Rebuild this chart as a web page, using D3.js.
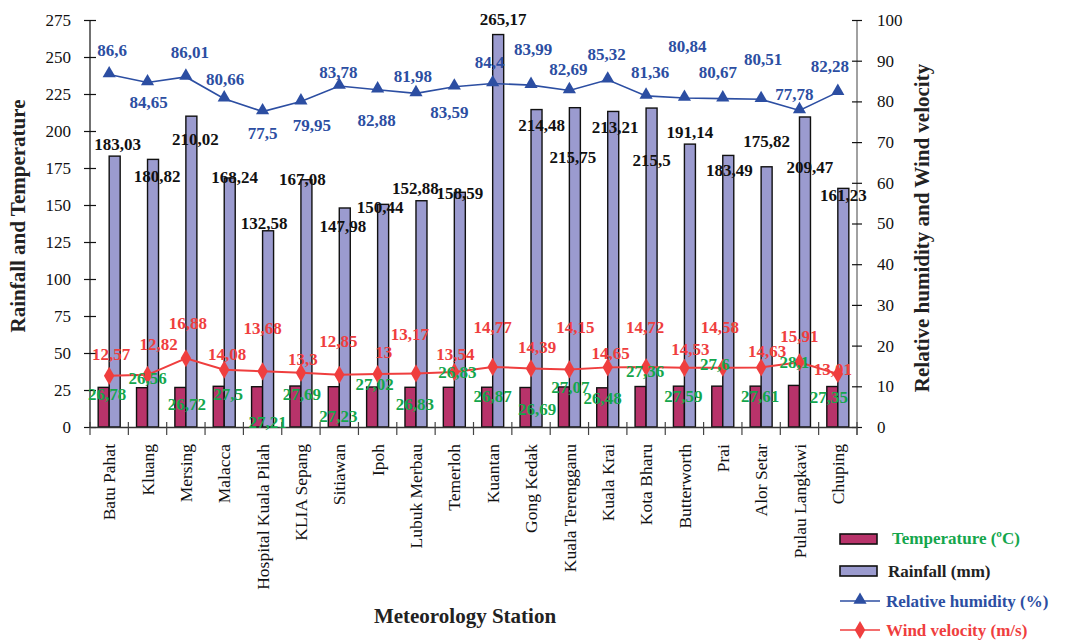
<!DOCTYPE html>
<html>
<head>
<meta charset="utf-8">
<script src="https://cdn.jsdelivr.net/npm/d3@7"></script>
<style>
  html, body { margin: 0; padding: 0; background: #fff; }
  svg, svg text { font-family: "Liberation Serif", "Times New Roman", Times, "DejaVu Serif", serif !important; }
  svg { display: block; }
</style>
</head>
<body>
<svg id="chart" width="1065" height="643"></svg>
<script>
// ---- data ----
const stations = ["Batu Pahat", "Kluang", "Mersing", "Malacca", "Hospital Kuala Pilah", "KLIA Sepang",
  "Sitiawan", "Ipoh", "Lubuk Merbau", "Temerloh", "Kuantan", "Gong Kedak", "Kuala Terengganu",
  "Kuala Krai", "Kota Bharu", "Butterworth", "Prai", "Alor Setar", "Pulau Langkawi", "Chuping"];
const temperature = [26.78, 26.56, 26.72, 27.5, 27.21, 27.69, 27.23, 27.02, 26.83, 26.83,
  26.87, 26.69, 27.07, 26.48, 27.36, 27.59, 27.6, 27.61, 28.1, 27.35];
const rainfall = [183.03, 180.82, 210.02, 168.24, 132.58, 167.08, 147.98, 150.44, 152.88, 158.59,
  265.17, 214.48, 215.75, 213.21, 215.5, 191.14, 183.49, 175.82, 209.47, 161.23];
const humidity = [86.6, 84.65, 86.01, 80.66, 77.5, 79.95, 83.78, 82.88, 81.98, 83.59,
  84.4, 83.99, 82.69, 85.32, 81.36, 80.84, 80.67, 80.51, 77.78, 82.28];
const wind = [12.57, 12.82, 16.88, 14.08, 13.68, 13.3, 12.85, 13, 13.17, 13.54,
  14.77, 14.39, 14.15, 14.65, 14.72, 14.53, 14.58, 14.63, 15.91, 13.01];
const leftTicks = [0, 25, 50, 75, 100, 125, 150, 175, 200, 225, 250, 275];
const rightTicks = [0, 10, 20, 30, 40, 50, 60, 70, 80, 90, 100];

// ---- label nudges (layout only: [dx, dy] relative to the mark) ----
const rainNudge = [[3,-6],[4,23],[4,29],[5,5],[-4,-2],[-4,5],[-2,24],[-3,9],[-6,-7],[0,7],
  [5,-10],[5,21],[-2,55],[2,22],[0,58],[0,-6],[1,21],[0,-20],[5,56],[0,13]];
const tempNudge = [[-2,13],[0,-4],[1,23],[4,14],[5,41],[1,14],[-1,35],[-3,3],[-1,23],[3,-9],
  [0,15],[6,28],[1,6],[-5,16],[-1,-10],[-1,16],[-8,-16],[-1,16],[-5,-17],[-9,16]];
const humNudge = [[3,-19],[1,26],[4,-19],[1,-14],[0,27],[11,29],[-1,-8],[-1,36],[-3,-11],[-5,31],
  [-3,-15],[2,-30],[-1,-15],[-1,-20],[4,-18],[3,-46],[-5,-21],[2,-34],[-5,-10],[-8,-20]];
const windNudge = [[2,-16],[11,-25],[2,-29],[3,-10],[0,-37],[2,-8],[-1,-28],[6,-16],[-6,-33],[1,-12],
  [0,-34],[6,-15],[6,-36],[3,-8],[-1,-34],[6,-13],[-3,-35],[6,-10],[0,-20],[-5,1]];

const colTemp = "#b8336a", colRain = "#9b9bcf", colHum = "#2c4ea2", colWind = "#ef3e3e";
const colTempLbl = "#14a64c";
const serif = "'Liberation Serif', 'Times New Roman', Times, 'DejaVu Serif', serif";

const svg = d3.select("#chart").attr("font-family", serif);
const plotL = 90, plotR = 857, plotT = 20, plotB = 427;

const x = d3.scaleBand().domain(stations).range([plotL, plotR]).paddingInner(0).paddingOuter(0);
const yL = d3.scaleLinear().domain([0, 275]).range([plotB, plotT]);
const yR = d3.scaleLinear().domain([0, 100]).range([plotB, plotT]);
const cx = d => x(d) + x.bandwidth() / 2;
const barW = 11;
const fmt = v => String(v).replace(".", ",");

// ---- bars ----
const g = svg.append("g");
g.selectAll("rect.temp").data(stations).join("rect")
  .attr("x", d => cx(d) - barW).attr("y", (d, i) => yL(temperature[i]))
  .attr("width", barW).attr("height", (d, i) => plotB - yL(temperature[i]))
  .attr("fill", colTemp).attr("stroke", "#111").attr("stroke-width", 1.4);
g.selectAll("rect.rain").data(stations).join("rect")
  .attr("x", d => cx(d)).attr("y", (d, i) => yL(rainfall[i]))
  .attr("width", barW).attr("height", (d, i) => plotB - yL(rainfall[i]))
  .attr("fill", colRain).attr("stroke", "#111").attr("stroke-width", 1.4);

// ---- axes ----
const axL = svg.append("g").attr("transform", `translate(${plotL},0)`)
  .call(d3.axisLeft(yL).tickValues(leftTicks).tickSize(6).tickPadding(13).tickFormat(d3.format("d")));
axL.attr("font-family", serif);
axL.select(".domain").attr("stroke", "#111").attr("stroke-width", 1.2).attr("d", `M0,${plotT}V${plotB}`);
axL.selectAll(".tick line").attr("x1", -6).attr("x2", 6).attr("stroke", "#111").attr("stroke-width", 1.2);
axL.selectAll(".tick text").attr("font-size", 17).attr("fill", "#111");

const axR = svg.append("g").attr("transform", `translate(${plotR},0)`)
  .call(d3.axisRight(yR).tickValues(rightTicks).tickSize(5).tickPadding(15).tickFormat(d3.format("d")));
axR.attr("font-family", serif);
axR.select(".domain").attr("stroke", "#8a8a8a").attr("stroke-width", 1.6).attr("d", `M0,${plotT}V${plotB + 8}`);
axR.selectAll(".tick line").attr("x1", -5).attr("x2", 5).attr("stroke", "#111").attr("stroke-width", 1.2);
axR.selectAll(".tick text").attr("font-size", 17).attr("fill", "#111");

const axB = svg.append("g").attr("transform", `translate(0,${plotB})`)
  .call(d3.axisBottom(x).tickSize(0).tickPadding(0));
axB.attr("font-family", serif);
axB.select(".domain").attr("stroke", "#333").attr("stroke-width", 1.4);
axB.selectAll(".tick text")
  .attr("transform", "translate(0,17) rotate(-90)")
  .attr("text-anchor", "end").attr("dy", "0.35em").attr("x", 0).attr("y", 0)
  .attr("font-size", 17.5).attr("fill", "#111");
// category boundary ticks
const bounds = stations.map(d => x(d)).concat([plotR]);
svg.append("g").selectAll("line").data(bounds).join("line")
  .attr("x1", d => d).attr("x2", d => d).attr("y1", plotB - 5).attr("y2", plotB + 8)
  .attr("stroke", "#444").attr("stroke-width", 1.2);

// ---- lines ----
const valLine = d3.line().x((d, i) => cx(stations[i])).y(d => yR(d));
svg.append("path").datum(humidity).attr("d", valLine)
  .attr("fill", "none").attr("stroke", colHum).attr("stroke-width", 1.6);
const tri = d3.symbol().type(d3.symbolTriangle).size(75);
svg.append("g").selectAll("path").data(humidity).join("path")
  .attr("d", tri).attr("transform", (d, i) => `translate(${cx(stations[i])},${yR(d) - 1})`)
  .attr("fill", colHum);

svg.append("path").datum(wind).attr("d", valLine)
  .attr("fill", "none").attr("stroke", colWind).attr("stroke-width", 2);
const dia = d3.symbol().type(d3.symbolDiamond).size(95);
svg.append("g").selectAll("path").data(wind).join("path")
  .attr("d", dia).attr("transform", (d, i) => `translate(${cx(stations[i])},${yR(d)})`)
  .attr("fill", colWind);

// ---- data labels ----
const lbl = svg.append("g").attr("font-weight", "bold").attr("font-size", 17).attr("text-anchor", "middle");
lbl.selectAll("text.r").data(rainfall).join("text")
  .attr("x", (d, i) => cx(stations[i]) + barW / 2 + rainNudge[i][0])
  .attr("y", (d, i) => yL(d) + rainNudge[i][1])
  .attr("fill", "#111").text(fmt);
lbl.selectAll("text.h").data(humidity).join("text")
  .attr("x", (d, i) => cx(stations[i]) + humNudge[i][0])
  .attr("y", (d, i) => yR(d) + humNudge[i][1])
  .attr("fill", colHum).text(fmt);
lbl.selectAll("text.w").data(wind).join("text")
  .attr("x", (d, i) => cx(stations[i]) + windNudge[i][0])
  .attr("y", (d, i) => yR(d) + windNudge[i][1])
  .attr("fill", colWind).text(fmt);
lbl.selectAll("text.t").data(temperature).join("text")
  .attr("x", (d, i) => cx(stations[i]) + tempNudge[i][0])
  .attr("y", (d, i) => yL(d) + tempNudge[i][1])
  .attr("fill", colTempLbl).text(fmt);

// ---- axis titles ----
const titles = svg.append("g").attr("font-weight", "bold").attr("font-size", 21).attr("fill", "#222").attr("text-anchor", "middle");
titles.append("text").attr("transform", "translate(25,216) rotate(-90)").text("Rainfall and Temperature");
titles.append("text").attr("transform", "translate(929,228) rotate(-90)").text("Relative humidity and Wind velocity");
titles.append("text").attr("x", 465).attr("y", 623).text("Meteorology Station");

// ---- legend ----
const leg = svg.append("g").attr("font-weight", "bold").attr("font-size", 17);
leg.append("rect").attr("x", 840).attr("y", 534).attr("width", 37).attr("height", 10)
  .attr("fill", colTemp).attr("stroke", "#111").attr("stroke-width", 1.6);
leg.append("text").attr("x", 892).attr("y", 544).attr("fill", colTempLbl).text("Temperature (ºC)");
leg.append("rect").attr("x", 840).attr("y", 566).attr("width", 37).attr("height", 10)
  .attr("fill", colRain).attr("stroke", "#111").attr("stroke-width", 1.6);
leg.append("text").attr("x", 888).attr("y", 577).attr("fill", "#222").text("Rainfall (mm)");
leg.append("line").attr("x1", 840).attr("x2", 880).attr("y1", 601).attr("y2", 601)
  .attr("stroke", colHum).attr("stroke-width", 1.6);
leg.append("path").attr("d", tri).attr("transform", "translate(860,600)").attr("fill", colHum);
leg.append("text").attr("x", 886).attr("y", 607).attr("fill", colHum).text("Relative humidity (%)");
leg.append("line").attr("x1", 840).attr("x2", 880).attr("y1", 630).attr("y2", 630)
  .attr("stroke", colWind).attr("stroke-width", 1.6);
leg.append("path").attr("d", dia).attr("transform", "translate(860,630)").attr("fill", colWind);
leg.append("text").attr("x", 886).attr("y", 636).attr("fill", colWind).text("Wind velocity (m/s)");
</script>
</body>
</html>
